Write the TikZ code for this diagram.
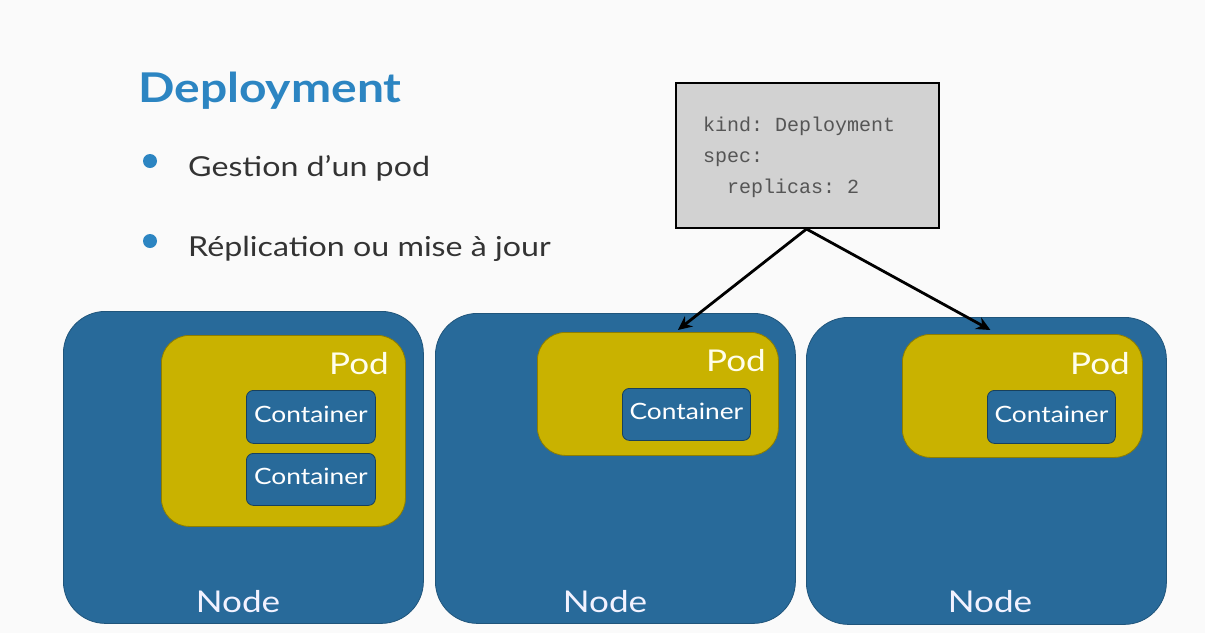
\documentclass[tikz,border=0pt]{standalone}
\usepackage{fontspec}
\setmainfont{Lato}[FakeStretch=1.17]
\setmonofont{Liberation Mono}
\usetikzlibrary{calc,arrows.meta}
\definecolor{bg}{HTML}{FAFAFA}
\definecolor{nodeblue}{HTML}{286A9A}
\definecolor{podyellow}{HTML}{C9B200}
\definecolor{titleblue}{HTML}{2C85C2}
\definecolor{bodytext}{HTML}{333333}
\definecolor{codegray}{HTML}{D2D2D2}
\definecolor{codetext}{HTML}{555555}
\begin{document}
\begin{tikzpicture}[x=1pt,y=-1pt,
  hostbox/.style={fill=nodeblue, draw=nodeblue!80!black, line width=0.8pt, rounded corners=42pt, anchor=north west, inner sep=0pt},
  podbox/.style={fill=podyellow, draw=podyellow!70!black, line width=0.8pt, rounded corners=28pt, anchor=north west, inner sep=0pt},
  ctrbox/.style={fill=nodeblue, draw=nodeblue!60!black, line width=0.8pt, rounded corners=7pt, anchor=north west, inner sep=0pt},
  ctrlabel/.style={text=white, font=\fontsize{22.5}{26}\selectfont},
  podlabel/.style={text=white!92!yellow, font=\fontsize{30}{34}\selectfont, anchor=base east, inner sep=0pt},
  hostlabel/.style={text=white!95!blue, font=\fontsize{30}{34}\selectfont, anchor=base, inner sep=0pt},
  bulletdot/.style={circle, fill=titleblue, minimum size=14pt, inner sep=0pt},
  bullettext/.style={text=bodytext, font=\fontsize{27.5}{30}\selectfont, anchor=base west, inner sep=0pt},
  link/.style={line width=2.8pt, -{Stealth[length=14pt,width=13pt]}}
]
\fill[bg] (0,0) rectangle (1205,633);
\useasboundingbox (0,0) rectangle (1205,633);

% heading and bullet list
\node[text=titleblue, font=\fontsize{41}{46}\selectfont\bfseries, anchor=base west, inner sep=0pt] (title) at (138,102) {Deployment};
\node[bulletdot] (b1) at (150,161) {};
\node[bullettext] (t1) at (188,176) {Gestion d’un pod};
\node[bulletdot] (b2) at (150,241) {};
\node[bullettext] (t2) at (188,256) {Réplication ou mise à jour};

% manifest box
\node[fill=codegray, draw=black, line width=2pt, anchor=north west, minimum width=263pt, minimum height=145pt, inner sep=0pt] (code) at (675,82) {};
\node[text=codetext, font=\ttfamily\fontsize{20}{31}\selectfont, anchor=north west, align=left, inner sep=0pt] (codetxt) at (703,117)
  {kind: Deployment\\spec:\\\ \ replicas: 2};

% worker nodes
\node[hostbox, minimum width=360pt, minimum height=312pt] (n1) at (63,311) {};
\node[hostbox, minimum width=360pt, minimum height=310pt] (n2) at (435,313) {};
\node[hostbox, minimum width=360pt, minimum height=307pt] (n3) at (806,317) {};
\node[hostlabel] (n1l) at (238,612) {Node};
\node[hostlabel] (n2l) at (605,612) {Node};
\node[hostlabel] (n3l) at (990,612) {Node};

% pods
\node[podbox, minimum width=244pt, minimum height=191pt] (p1) at (161,335) {};
\node[podbox, minimum width=241pt, minimum height=123pt] (p2) at (537,332) {};
\node[podbox, minimum width=240pt, minimum height=123pt] (p3) at (902,334) {};
\node[podlabel] (p1l) at (389,374) {Pod};
\node[podlabel] (p2l) at (766,371) {Pod};
\node[podlabel] (p3l) at (1130,374) {Pod};

% containers (labels sit slightly above the box centre)
\node[ctrbox, minimum width=129pt, minimum height=53pt] (c1a) at (246,390) {};
\node[ctrbox, minimum width=129pt, minimum height=52pt] (c1b) at (246,453) {};
\node[ctrbox, minimum width=128pt, minimum height=52pt] (c2) at (622,388) {};
\node[ctrbox, minimum width=128pt, minimum height=53pt] (c3) at (987,390) {};
\node[ctrlabel] (c1at) at ([yshift=3pt]c1a.center) {Container};
\node[ctrlabel] (c1bt) at ([yshift=3pt]c1b.center) {Container};
\node[ctrlabel] (c2t) at ([yshift=3pt]c2.center) {Container};
\node[ctrlabel] (c3t) at ([yshift=3pt]c3.center) {Container};

% replica arrows
\coordinate (r2) at ([xshift=20pt,yshift=2pt]p2.north);
\coordinate (r3) at ([xshift=-32pt,yshift=4pt]p3.north);
\draw[link] ([xshift=-1pt]code.south) -- (r2);
\draw[link] ([xshift=-1pt]code.south) -- (r3);
\end{tikzpicture}
\end{document}
